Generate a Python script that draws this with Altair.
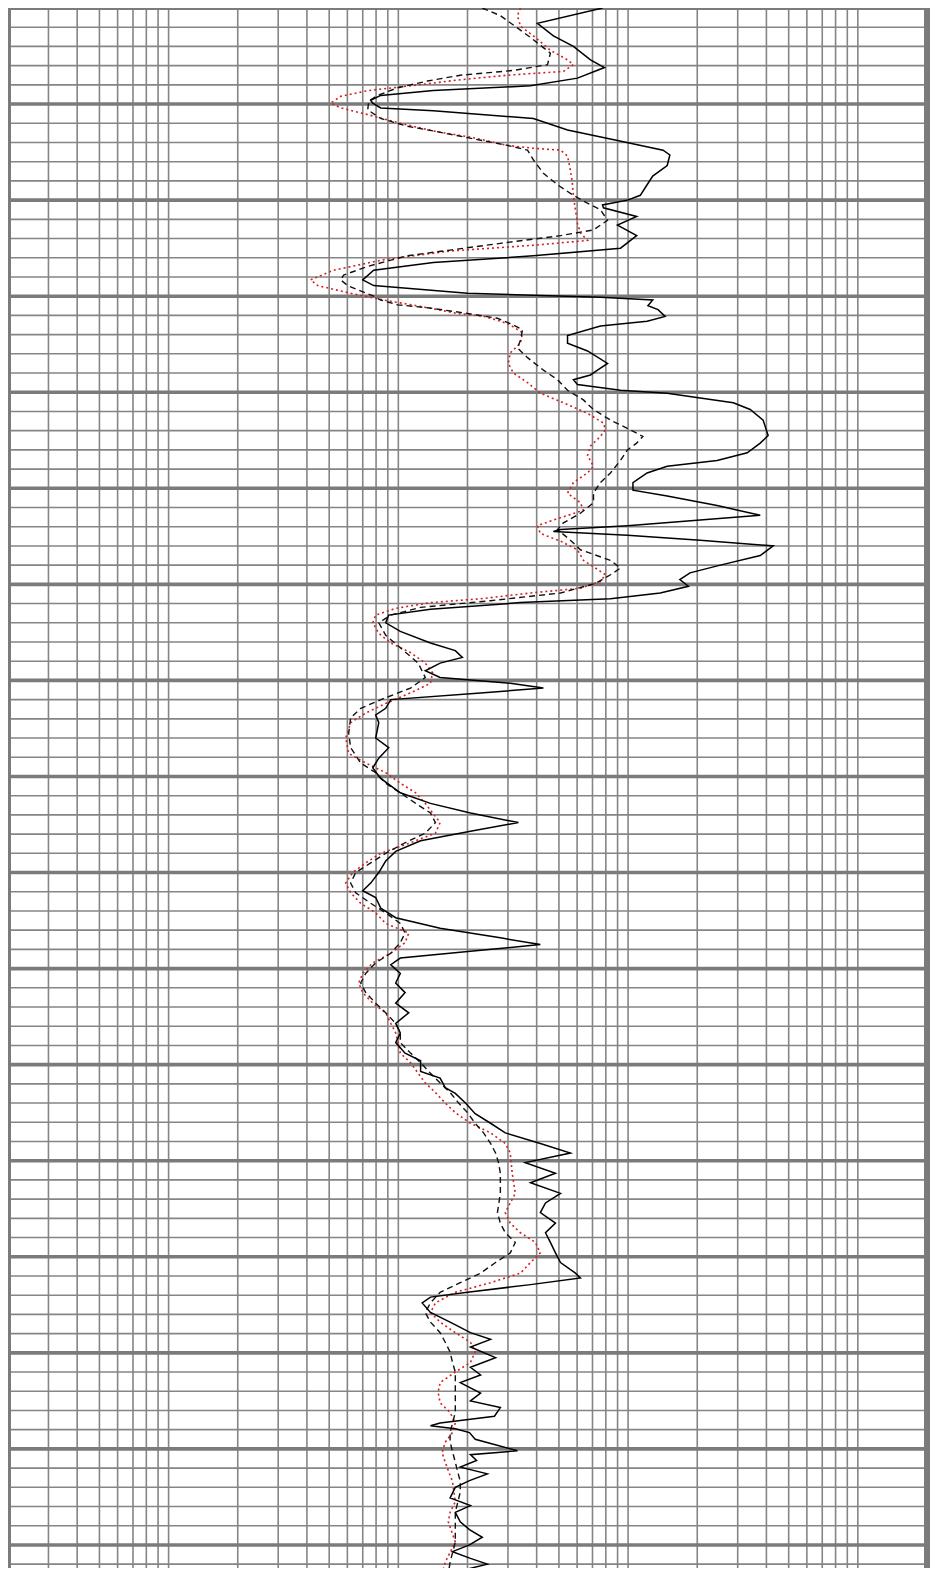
import altair as alt
import pandas as pd

# ---------------- data (depth in m, resistivity in ohm-m) ----------------
solid_depth = [1000.0, 1001.6, 1002.9, 1004.0, 1005.4, 1006.2, 1007.3, 1008.1, 1008.6, 1009.1,
               1009.6, 1009.9, 1010.4, 1010.7, 1011.5, 1012.7, 1013.8, 1014.8, 1015.3, 1016.4,
               1017.5, 1018.4, 1019.5, 1020.0, 1020.5, 1020.8, 1021.7, 1022.6, 1023.7, 1025.0,
               1025.8, 1026.5, 1027.3, 1028.3, 1028.9, 1029.7, 1030.1, 1030.4, 1031.0, 1031.4,
               1032.1, 1032.6, 1033.1, 1034.1, 1034.9, 1035.7, 1037.0, 1037.7, 1038.2, 1038.7,
               1039.2, 1039.8, 1040.1, 1040.6, 1041.1, 1041.8, 1042.9, 1044.5, 1045.3, 1046.3,
               1047.1, 1047.7, 1048.4, 1049.4, 1050.2, 1050.8, 1051.8, 1052.8, 1053.3, 1053.9,
               1054.3, 1054.5, 1054.9, 1055.4, 1056.0, 1057.0, 1058.0, 1058.8, 1059.5, 1060.2,
               1060.9, 1061.5, 1061.9, 1062.6, 1063.2, 1064.0, 1064.9, 1066.1, 1066.9, 1067.6,
               1068.2, 1069.0, 1069.7, 1070.3, 1070.8, 1071.3, 1072.0, 1072.9, 1073.6, 1074.4,
               1076.0, 1077.0, 1078.1, 1079.1, 1080.2, 1081.7, 1082.8, 1083.8, 1084.8, 1085.7,
               1086.7, 1087.8, 1088.8, 1090.0, 1091.1, 1091.9, 1092.6, 1093.7, 1094.7, 1095.8,
               1096.8, 1097.5, 1098.2, 1098.9, 1099.6, 1100.5, 1101.5, 1102.5, 1103.6, 1104.6,
               1105.7, 1106.7, 1107.7, 1108.8, 1109.6, 1110.7, 1111.4, 1112.4, 1113.0, 1114.0,
               1115.1, 1116.1, 1117.1, 1118.2, 1119.2, 1120.2, 1121.3, 1122.3, 1123.4, 1124.4,
               1125.4, 1126.5, 1127.5, 1128.5, 1129.6, 1130.6, 1131.7, 1132.2, 1132.9, 1133.7,
               1134.2, 1134.8, 1135.8, 1136.8, 1137.9, 1138.6, 1139.4, 1140.5, 1141.5, 1142.3,
               1143.1, 1144.2, 1145.0, 1145.7, 1146.6, 1147.3, 1147.6, 1147.9, 1148.3, 1149.0,
               1150.2, 1150.6, 1151.2, 1151.9, 1152.6, 1153.3, 1154.0, 1155.1, 1155.9, 1156.6,
               1157.6, 1158.4, 1159.2, 1160.0, 1160.7, 1161.4, 1162.0, 1163.0]
solid_res = [77.4, 40.3, 47.3, 57.8, 68.6, 78.9, 60.2, 37.6, 14.2, 8.38,
             7.58, 7.74, 8.38, 14.2, 38.7, 54.5, 89.9, 142, 152, 148,
             128, 121, 113, 99.4, 77.4, 78.1, 109, 89.9, 109, 92.7,
             38.7, 14.2, 7.81, 7.00, 7.81, 20.0, 75.8, 128, 122, 135,
             145, 121, 75.8, 54.5, 54.5, 66.6, 81.4, 73.6, 68.6, 57.8,
             60.2, 92.7, 148, 206, 287, 340, 387, 407, 376, 330,
             244, 148, 121, 105, 105, 148, 244, 376, 206, 99.4,
             50.8, 47.3, 99.4, 206, 428, 376, 252, 186, 168, 183,
             138, 83.8, 34.0, 13.8, 9.08, 8.81, 10.2, 13.8, 17.7, 19.0,
             15.2, 13.1, 15.2, 30.7, 42.8, 22.8, 9.27, 8.81, 7.97, 8.22,
             7.97, 9.08, 8.22, 7.74, 8.38, 10.2, 13.8, 20.6, 33.3, 20.6,
             12.5, 9.74, 8.81, 8.22, 7.58, 7.00, 7.97, 8.38, 9.74, 15.2,
             27.8, 41.5, 20.6, 10.2, 9.27, 10.2, 9.74, 10.7, 9.74, 11.1,
             9.74, 10.2, 9.74, 10.7, 12.5, 12.5, 15.2, 16.0, 17.7, 19.6,
             21.6, 25.2, 29.2, 41.5, 56.1, 35.7, 48.3, 37.6, 50.8, 43.7,
             41.5, 48.3, 43.7, 45.9, 48.3, 50.8, 59.0, 62.0, 37.6, 20.0,
             13.8, 12.7, 13.8, 16.8, 20.6, 25.2, 20.6, 26.5, 20.6, 22.8,
             18.6, 22.8, 20.6, 27.8, 26.2, 15.2, 13.8, 17.7, 20.4, 21.6,
             33.0, 20.6, 21.9, 18.6, 24.4, 20.4, 17.7, 16.8, 20.6, 17.7,
             18.6, 20.4, 23.2, 20.4, 17.2, 20.6, 24.4, 16.5]

dash_depth = [1000.0, 1000.8, 1002.3, 1003.3, 1004.7, 1005.9, 1006.5, 1007.0, 1007.6, 1008.3,
              1009.1, 1009.7, 1010.6, 1011.5, 1012.3, 1012.8, 1013.5, 1014.3, 1014.8, 1015.8,
              1017.2, 1018.4, 1019.3, 1020.1, 1021.0, 1022.1, 1023.1, 1023.7, 1024.5, 1025.2,
              1025.8, 1026.9, 1027.8, 1028.3, 1028.9, 1030.0, 1030.4, 1030.9, 1031.2, 1031.8,
              1032.3, 1033.0, 1033.5, 1034.6, 1035.4, 1036.4, 1037.7, 1038.7, 1039.8, 1040.8,
              1041.8, 1042.9, 1043.9, 1044.6, 1045.3, 1046.0, 1047.1, 1048.4, 1049.4, 1050.5,
              1051.5, 1052.6, 1053.6, 1054.3, 1055.4, 1056.4, 1057.5, 1058.3, 1059.0, 1059.9,
              1060.9, 1061.7, 1062.4, 1063.2, 1064.0, 1065.3, 1066.6, 1068.2, 1069.7, 1070.8,
              1071.8, 1072.9, 1073.9, 1075.5, 1077.0, 1078.6, 1079.6, 1080.7, 1081.7, 1082.8,
              1083.8, 1084.8, 1085.9, 1086.9, 1088.0, 1089.0, 1090.0, 1091.1, 1092.1, 1093.2,
              1094.2, 1095.3, 1096.3, 1097.3, 1098.4, 1099.4, 1100.5, 1101.5, 1102.5, 1103.6,
              1104.6, 1105.7, 1106.7, 1107.7, 1108.8, 1109.8, 1110.9, 1111.9, 1112.9, 1114.0,
              1115.0, 1116.1, 1117.1, 1118.2, 1119.2, 1120.2, 1121.3, 1123.4, 1125.4, 1126.5,
              1127.5, 1128.5, 1129.6, 1130.6, 1131.7, 1132.7, 1133.7, 1134.8, 1135.8, 1136.8,
              1137.9, 1138.9, 1139.9, 1141.0, 1142.0, 1146.2, 1148.3, 1149.3, 1151.4, 1153.4,
              1154.5, 1156.6, 1159.7, 1161.8, 1163.0]
dash_res = [23.2, 27.8, 34.0, 38.7, 45.9, 44.6, 31.7, 18.6, 13.4, 9.94,
            8.14, 7.43, 7.36, 8.38, 10.9, 14.2, 20.0, 29.8, 36.5, 38.7,
            42.8, 49.3, 56.1, 63.9, 75.8, 81.4, 70.7, 50.8, 27.8, 16.8,
            10.9, 7.36, 5.78, 5.61, 6.02, 7.81, 8.38, 9.94, 13.4, 20.0,
            27.0, 31.7, 34.7, 34.0, 33.0, 36.5, 42.8, 49.3, 54.5, 63.9,
            70.7, 83.8, 102, 116, 109, 99.4, 92.7, 83.8, 75.8, 70.7,
            70.7, 62.0, 52.3, 49.3, 56.1, 62.0, 83.8, 92.7, 83.8, 72.1,
            50.8, 25.2, 12.5, 9.27, 8.22, 8.81, 10.2, 12.2, 13.1, 11.3,
            8.81, 6.86, 6.20, 6.08, 6.20, 6.86, 7.97, 8.81, 10.2, 11.9,
            13.8, 14.5, 13.1, 10.7, 8.81, 7.58, 6.52, 6.20, 6.52, 7.58,
            8.81, 10.2, 10.7, 10.2, 9.27, 7.97, 7.21, 6.86, 7.21, 7.97,
            8.81, 9.74, 10.2, 10.2, 11.3, 12.5, 13.8, 15.2, 16.8, 18.3,
            20.0, 21.6, 23.5, 25.2, 26.5, 27.3, 27.8, 27.8, 27.0, 27.8,
            29.2, 32.3, 30.7, 26.5, 22.8, 18.6, 15.2, 13.8, 13.1, 13.8,
            15.2, 16.0, 16.8, 17.2, 17.7, 17.7, 16.8, 16.8, 17.7, 18.6,
            18.6, 17.7, 17.7, 16.8, 16.5]

red_depth = [1000.0, 1000.8, 1001.9, 1002.9, 1004.4, 1005.4, 1005.9, 1006.6, 1007.0, 1007.5,
             1008.1, 1008.6, 1009.2, 1009.9, 1010.4, 1011.1, 1012.0, 1012.8, 1013.5, 1014.3,
             1014.6, 1014.8, 1015.4, 1016.9, 1018.2, 1019.6, 1021.0, 1022.4, 1023.4, 1024.2,
             1024.7, 1025.3, 1026.2, 1027.3, 1028.3, 1028.9, 1029.7, 1030.4, 1030.7, 1031.2,
             1031.8, 1032.1, 1032.6, 1033.0, 1033.8, 1034.9, 1035.9, 1037.0, 1038.0, 1039.0,
             1040.1, 1041.1, 1042.2, 1043.2, 1043.9, 1044.6, 1045.6, 1046.6, 1047.7, 1048.4,
             1049.4, 1050.5, 1051.5, 1052.3, 1053.3, 1053.9, 1054.7, 1055.5, 1056.4, 1057.5,
             1058.3, 1059.0, 1059.7, 1060.4, 1060.9, 1061.5, 1061.9, 1062.5, 1063.2, 1064.0,
             1065.1, 1066.1, 1067.1, 1068.2, 1069.2, 1070.3, 1071.3, 1072.4, 1073.4, 1074.4,
             1076.0, 1077.6, 1078.6, 1079.6, 1080.7, 1081.7, 1082.8, 1083.8, 1084.8, 1085.9,
             1086.9, 1088.0, 1089.0, 1090.0, 1091.1, 1092.1, 1093.2, 1094.2, 1095.3, 1096.3,
             1097.3, 1098.4, 1099.4, 1100.5, 1101.5, 1102.5, 1103.6, 1104.6, 1105.7, 1106.7,
             1108.8, 1109.8, 1110.9, 1111.9, 1112.9, 1114.0, 1115.0, 1116.1, 1117.1, 1118.2,
             1119.2, 1121.3, 1123.4, 1124.4, 1125.4, 1126.5, 1127.5, 1128.5, 1129.6, 1130.6,
             1131.7, 1132.7, 1133.7, 1134.8, 1135.8, 1136.8, 1137.9, 1138.9, 1139.9, 1141.0,
             1142.0, 1143.1, 1144.1, 1145.2, 1146.2, 1147.3, 1148.3, 1149.3, 1150.4, 1151.4,
             1153.4, 1155.5, 1156.6, 1157.6, 1159.7, 1161.8, 1163.0]
red_res = [34.0, 33.0, 34.0, 38.7, 45.9, 54.5, 57.8, 52.3, 29.8, 18.1,
           11.3, 7.36, 5.61, 5.08, 5.61, 7.36, 10.2, 14.2, 21.2, 29.8,
           38.7, 50.8, 54.5, 56.1, 57.2, 57.8, 59.0, 60.2, 62.0, 66.6,
           38.7, 16.8, 8.64, 5.23, 4.15, 4.46, 6.20, 8.64, 10.2, 13.4,
           18.1, 23.5, 27.8, 30.7, 34.7, 34.0, 30.7, 30.1, 31.7, 36.5,
           41.5, 52.3, 66.6, 78.1, 79.7, 75.8, 68.6, 66.6, 70.7, 66.6,
           57.8, 54.5, 62.0, 63.9, 47.3, 40.3, 41.5, 50.8, 60.2, 63.9,
           72.1, 79.7, 75.8, 62.0, 37.6, 22.8, 13.8, 9.74, 7.97, 7.74,
           8.22, 9.27, 11.3, 13.1, 14.1, 13.8, 11.3, 8.81, 7.21, 6.20,
           5.90, 6.08, 7.21, 8.81, 10.2, 11.9, 13.1, 14.1, 15.2, 14.5,
           11.3, 8.38, 7.21, 6.33, 5.90, 6.20, 6.86, 7.97, 8.81, 11.1,
           10.7, 9.27, 7.74, 7.00, 6.72, 7.00, 7.74, 8.81, 9.27, 9.74,
           10.2, 11.3, 12.2, 13.1, 14.5, 16.0, 17.7, 20.6, 25.2, 29.2,
           30.7, 31.3, 32.3, 30.7, 29.2, 30.7, 34.0, 39.5, 41.5, 37.6,
           34.0, 25.2, 17.7, 14.5, 13.8, 15.2, 17.7, 20.6, 21.6, 20.6,
           17.7, 15.2, 14.9, 15.2, 16.8, 17.7, 17.2, 16.0, 15.5, 16.0,
           17.2, 17.7, 16.8, 16.5, 17.7, 16.0, 15.5]

# grid definition: log resistivity scale 0.2 - 2000, depth 1000 - 1162.4
x_min, x_max = 0.2, 2000
depth_top, depth_bottom = 1000, 1162.4
grid_res = [round(m * 10 ** e, 4) for e in range(-1, 4) for m in range(1, 10)]
grid_res = [v for v in grid_res if x_min < v < x_max]
thin_depths = [d for d in range(1002, 1163, 2) if d % 10 != 0]
thick_depths = list(range(1010, 1163, 10))

# ---------------- chart ----------------
xs = alt.Scale(type="log", domain=[x_min, x_max], nice=False)
ys = alt.Scale(domain=[depth_top, depth_bottom], reverse=True, nice=False, zero=False)

grid_color = "#858585"

vgrid = alt.Chart(pd.DataFrame({"r": grid_res})).mark_rule(
    color=grid_color, strokeWidth=1.6
).encode(x=alt.X("r:Q", scale=xs, axis=None))

hthin = alt.Chart(pd.DataFrame({"d": thin_depths})).mark_rule(
    color=grid_color, strokeWidth=1.6
).encode(y=alt.Y("d:Q", scale=ys, axis=None))

hthick = alt.Chart(pd.DataFrame({"d": thick_depths})).mark_rule(
    color="#7b7b7b", strokeWidth=3.6
).encode(y=alt.Y("d:Q", scale=ys, axis=None))

vborder = alt.Chart(pd.DataFrame({"r": [x_min, x_max]})).mark_rule(
    color="#7b7b7b", strokeWidth=6
).encode(x=alt.X("r:Q", scale=xs, axis=None))

tborder = alt.Chart(pd.DataFrame({"d": [depth_top]})).mark_rule(
    color="#7b7b7b", strokeWidth=4
).encode(y=alt.Y("d:Q", scale=ys, axis=None))


def curve(depth, res, **style):
    df = pd.DataFrame({"depth": depth, "res": res})
    return alt.Chart(df).mark_line(clip=True, **style).encode(
        x=alt.X("res:Q", scale=xs, axis=None),
        y=alt.Y("depth:Q", scale=ys, axis=None),
        order=alt.Order("depth:Q"),
    )


red_line = curve(red_depth, red_res, color="#d42020", strokeWidth=1.6, strokeDash=[2, 3])
dash_line = curve(dash_depth, dash_res, color="#111111", strokeWidth=1.4, strokeDash=[6, 4])
solid_line = curve(solid_depth, solid_res, color="#000000", strokeWidth=1.5)

chart = alt.layer(
    vgrid, hthin, hthick, vborder, tborder, red_line, dash_line, solid_line
).properties(
    width=919,
    height=1560,
    autosize=alt.AutoSizeParams(type="none"),
    padding={"left": 0, "top": 0, "right": 4, "bottom": 0},
    background="white",
).configure_view(strokeWidth=0)

chart.save("out.html", embed_options={"renderer": "svg", "actions": False})
